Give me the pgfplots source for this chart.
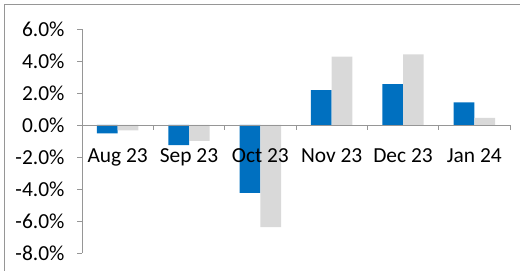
\documentclass[border=0pt]{standalone}
\usepackage{fontspec}
\setmainfont{Carlito}
\usepackage{pgfplots}
\pgfplotsset{compat=1.18}
\definecolor{barblue}{RGB}{0,112,192}
\definecolor{bargray}{RGB}{217,217,217}
\definecolor{axgray}{RGB}{150,150,150}
\begin{document}
\begin{tikzpicture}
\path[use as bounding box] (0,0) rectangle (520bp,271bp);
\draw[axgray, line width=1bp] (4.3bp,0) -- (4.3bp,266bp) -- (520bp,266bp);
\begin{axis}[
  at={(82bp,18bp)}, anchor=south west,
  scale only axis, width=428bp, height=224bp,
  xmin=-0.5, xmax=5.5, ymin=-8, ymax=6,
  axis on top,
  axis x line*=middle, axis y line*=left,
  axis line style={axgray, line width=0.8bp, -},
  xtick={0,1,2,3,4,5},
  xticklabels={Aug 23,Sep 23,Oct 23,Nov 23,Dec 23,Jan 24},
  major x tick style={draw=none},
  minor xtick={-0.5,0.5,1.5,2.5,3.5,4.5,5.5},
  minor tick length=5bp,
  major tick length=5bp,
  tick align=outside,
  minor x tick style={draw=axgray, line width=0.8bp},
  ytick={-8,-6,...,6},
  ytick style={draw=axgray, line width=0.8bp},
  yticklabel={\pgfmathprintnumber[fixed,fixed zerofill,precision=1]{\tick}\%},
  /pgf/number format/assume math mode=true,
  tick label style={font=\fontsize{21.5}{24}\selectfont, text=black},
  xticklabel style={yshift=-15bp},
  yticklabel style={xshift=-9bp},
  ybar, bar width=0.29,
]
\addplot[fill=barblue, draw=none, bar shift=-0.145] coordinates {
(0,-0.53) (1,-1.26) (2,-4.24) (3,2.18) (4,2.55) (5,1.41)};
\addplot[fill=bargray, draw=none, bar shift=0.145] coordinates {
(0,-0.33) (1,-1.0) (2,-6.39) (3,4.28) (4,4.41) (5,0.45)};
\end{axis}
\end{tikzpicture}
\end{document}
